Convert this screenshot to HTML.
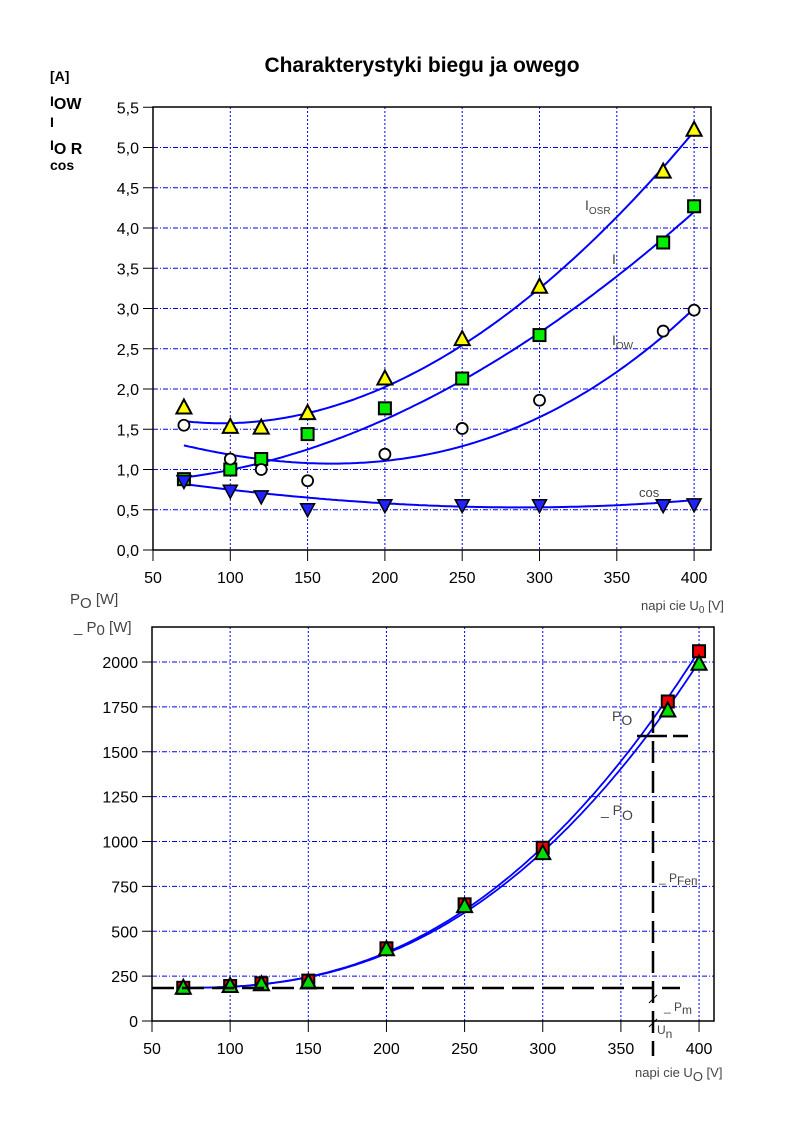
<!DOCTYPE html>
<html><head><meta charset="utf-8"><style>
body{margin:0;background:#fff}
svg{font-family:"Liberation Sans",sans-serif}
</style></head><body>
<svg id="s" width="802" height="1138" xmlns="http://www.w3.org/2000/svg">
<rect width="802" height="1138" fill="#fff"/>
<text x="422" y="72" font-size="21" font-weight="bold" text-anchor="middle">Charakterystyki biegu ja owego</text>
<g font-weight="bold" font-size="14">
<text x="50" y="81">[A]</text>
<text x="50" y="106">I<tspan font-size="16" dy="3">OW</tspan></text>
<text x="50" y="127">I</text>
<text x="50" y="150">I<tspan font-size="16" dy="4">O  R</tspan></text>
<text x="50" y="170">cos</text>
</g>
<g id="g"></g>
<g font-size="14" fill="#444">
<text x="585" y="210">I<tspan font-size="10" dy="4">OSR</tspan></text>
<text x="612" y="264">I</text>
<text x="612" y="345">I<tspan font-size="10" dy="4">OW</tspan></text>
<text x="639" y="497" font-size="13">cos</text>
<text x="70" y="604" font-size="15">P<tspan dy="4">O</tspan><tspan dy="-4"> [W]</tspan></text>
<text x="74" y="632" font-size="15">_ P<tspan dy="3">0</tspan><tspan dy="-3"> [W]</tspan></text>
<text x="641" y="610" font-size="13">napi   cie U<tspan font-size="10" dy="3">0</tspan><tspan dy="-3"> [V]</tspan></text>
<text x="635" y="1077" font-size="13">napi   cie U<tspan dy="4">O</tspan><tspan dy="-4"> [V]</tspan></text>
<text x="612" y="721" font-size="14">P<tspan dy="4">O</tspan></text>
<text x="601" y="815" font-size="14">_ P<tspan dy="5">O</tspan></text>
<text x="659" y="882" font-size="12">_ P<tspan dy="3">Feп</tspan></text>
<text x="664" y="1011" font-size="12">_ P<tspan dy="3">m</tspan></text>
<text x="657" y="1034" font-size="12">U<tspan dy="4">n</tspan></text>
</g>
</svg>
<script>
const NS="http://www.w3.org/2000/svg",g=document.getElementById('g');
function el(t,a,p){const e=document.createElementNS(NS,t);for(const k in a)e.setAttribute(k,a[k]);if(t=='text'&&a.txt!=null)e.textContent=a.txt;(p||g).appendChild(e);return e;}
function lag(pts,x){let s=0;for(let i=0;i<pts.length;i++){let l=1;for(let j=0;j<pts.length;j++)if(j!=i)l*=(x-pts[j][0])/(pts[i][0]-pts[j][0]);s+=l*pts[i][1];}return s;}
function chart(L,T,R,B,X,Y,ymax,ystep,fmt,xticks){
 for(const xv of xticks){const px=X(xv);if(xv>50)el('line',{x1:px,y1:T,x2:px,y2:B,stroke:'#00f','stroke-dasharray':'2,2','stroke-width':1});
  el('line',{x1:px,y1:B,x2:px,y2:B+11,stroke:'#000'});
  el('text',{x:px,y:B+33,'font-size':16,'text-anchor':'middle',txt:xv});}
 for(let v=0;v<=ymax+1e-9;v+=ystep){const py=Y(v);if(v>0&&py>T+2)el('line',{x1:L,y1:py,x2:R,y2:py,stroke:'#00f','stroke-dasharray':'5,2,1,2','stroke-width':1});
  el('line',{x1:L-10,y1:py,x2:L,y2:py,stroke:'#000'});
  el('text',{x:L-14,y:py+6,'font-size':16,'text-anchor':'end',txt:fmt(v)});}
 el('rect',{x:L,y:T,width:R-L,height:B-T,fill:'none',stroke:'#000','stroke-width':1.5});
}
function curveF(f,X,Y,x0,x1,w){let d='';for(let x=x0;x<=x1;x+=2){d+=(d?'L':'M')+X(x).toFixed(1)+','+Y(f(x)).toFixed(1);}el('path',{d:d,fill:'none',stroke:'#00f','stroke-width':w||2});}
function curve(pts,X,Y,x0,x1,w){curveF(x=>lag(pts,x),X,Y,x0,x1,w);}
function mk(type,x,y,fill){
 if(type=='tri')el('polygon',{points:`${x},${y-8} ${x-7.5},${y+6} ${x+7.5},${y+6}`,fill:fill,stroke:'#000','stroke-width':2});
 if(type=='dtri')el('polygon',{points:`${x},${y+7} ${x-7},${y-6} ${x+7},${y-6}`,fill:fill,stroke:'#000','stroke-width':1.5});
 if(type=='sq')el('rect',{x:x-6,y:y-6,width:12,height:12,fill:fill,stroke:'#000','stroke-width':2});
 if(type=='ci')el('circle',{cx:x,cy:y,r:5.5,fill:'#fff',stroke:'#000','stroke-width':1.8});
}
const X1=v=>153+(v-50)*1.546,Y1=v=>550-v*80.5;
chart(153,107,711,550,X1,Y1,5.5,0.5,v=>v.toFixed(1).replace('.',','),[50,100,150,200,250,300,350,400]);
curve([[70,1.6],[150,1.7],[300,3.25],[400,5.2]],X1,Y1,70,400);
curve([[70,0.9],[150,1.25],[300,2.7],[400,4.2]],X1,Y1,70,400);
curve([[70,1.3],[150,1.08],[300,1.65],[400,3.0]],X1,Y1,70,400);
curve([[70,0.82],[200,0.58],[300,0.53],[400,0.62]],X1,Y1,70,400);
const xs=[70,100,120,150,200,250,300,380,400];
[1.77,1.53,1.52,1.70,2.13,2.62,3.27,4.70,5.22].forEach((v,i)=>mk('tri',X1(xs[i]),Y1(v),'#ff0'));
[0.88,1.0,1.13,1.44,1.76,2.13,2.67,3.82,4.27].forEach((v,i)=>mk('sq',X1(xs[i]),Y1(v),'#0e0'));
[1.55,1.13,1.0,0.86,1.19,1.51,1.86,2.72,2.98].forEach((v,i)=>mk('ci',X1(xs[i]),Y1(v)));
[0.85,0.73,0.66,0.50,0.55,0.55,0.55,0.55,0.56].forEach((v,i)=>mk('dtri',X1(xs[i]),Y1(v),'#22f'));
const X2=v=>152+(v-50)*1.563,Y2=v=>1021-v*0.1795;
chart(152,627,714,1021,X2,Y2,2000,250,v=>v,[50,100,150,200,250,300,350,400]);
curveF(x=>185+0.00151*Math.pow(x-70,2.42),X2,Y2,70,400,1.8);
curveF(x=>185+0.00146*Math.pow(x-70,2.42),X2,Y2,70,400,1.8);
[185,195,210,225,405,650,965,1780,2060].forEach((v,i)=>mk('sq',X2(xs[i]),Y2(v),'#e00'));
[185,195,205,215,400,640,935,1730,1990].forEach((v,i)=>mk('tri',X2(xs[i]),Y2(v),'#0d0'));
el('line',{x1:152,y1:988,x2:680,y2:988,stroke:'#000','stroke-width':2.5,'stroke-dasharray':'22,8'});
el('line',{x1:653,y1:711,x2:653,y2:1056,stroke:'#000','stroke-width':2.5,'stroke-dasharray':'22,8'});
el('line',{x1:637,y1:736,x2:688,y2:736,stroke:'#000','stroke-width':2.5,'stroke-dasharray':'30,6'});
el('line',{x1:649,y1:1003,x2:657,y2:995,stroke:'#000','stroke-width':1});
el('line',{x1:649,y1:1027,x2:657,y2:1019,stroke:'#000','stroke-width':1});
</script>
</body></html>
